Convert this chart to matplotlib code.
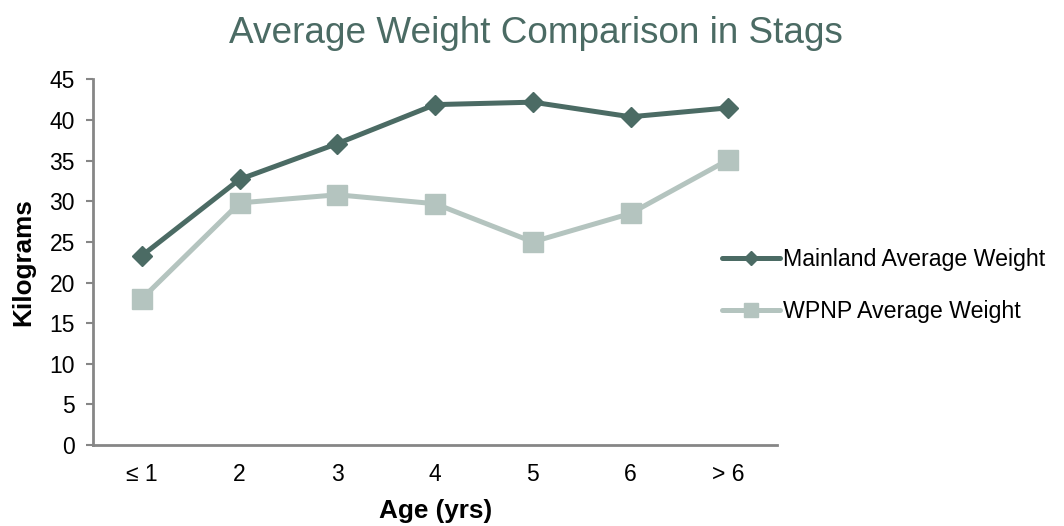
import matplotlib
matplotlib.use("Agg")
import matplotlib.pyplot as plt

plt.rcParams["font.family"] = ["Liberation Sans", "DejaVu Sans"]

AGE_LABELS = ["≤ 1", "2", "3", "4", "5", "6", "> 6"]
MAINLAND = [23.3, 32.7, 37.1, 41.9, 42.2, 40.4, 41.5]
WPNP = [18.0, 29.8, 30.8, 29.7, 25.0, 28.5, 35.1]

DARK = "#4b6b64"
LIGHT = "#b4c4bf"
AXIS_GREY = "#868686"

fig = plt.figure(figsize=(10.64, 5.26), dpi=100)
ax = fig.add_axes([0.0874, 0.154, 0.643, 0.695])

x = list(range(len(AGE_LABELS)))
ax.plot(x, MAINLAND, color=DARK, lw=3.6, marker="D", markersize=10,
        label="Mainland Average Weight", solid_capstyle="round")
ax.plot(x, WPNP, color=LIGHT, lw=3.6, marker="s", markersize=14,
        label="WPNP Average Weight", solid_capstyle="round")

ax.set_xlim(-0.5, 6.5)
ax.set_ylim(0, 45)
ax.set_yticks(range(0, 46, 5))
ax.set_xticks(x)
ax.set_xticklabels(AGE_LABELS)

for side in ("top", "right"):
    ax.spines[side].set_visible(False)
for side in ("left", "bottom"):
    ax.spines[side].set_color(AXIS_GREY)
    ax.spines[side].set_linewidth(2)
ax.tick_params(axis="y", length=5, width=1.5, color=AXIS_GREY, labelsize=16.5, pad=8)
ax.tick_params(axis="x", length=0, labelsize=16.5, pad=13)

ax.set_xlabel("Age (yrs)", fontsize=18.8, fontweight="bold", labelpad=9)
ax.set_ylabel("Kilograms", fontsize=18.8, fontweight="bold", labelpad=10)

fig.text(0.504, 0.937, "Average Weight Comparison in Stags", ha="center", va="center",
         fontsize=26.6, color=DARK)

fig.legend(loc="center left", bbox_to_anchor=(0.6786, 0.4563), frameon=False,
           fontsize=16.7, handlelength=2.5, handletextpad=0.15, labelspacing=1.25,
           borderaxespad=0, borderpad=0, markerscale=0.75)

fig.savefig("out.png", dpi=100)
